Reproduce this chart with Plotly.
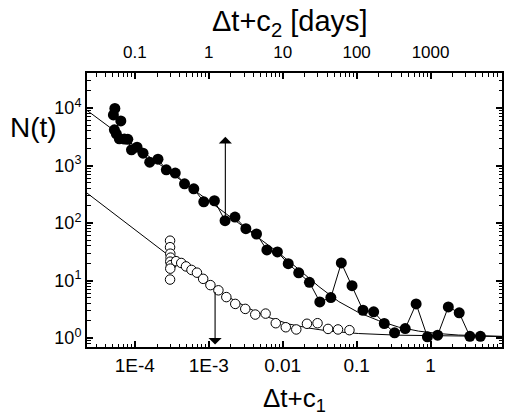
import math
import plotly.graph_objects as go

# ---- data ----
filled_x = [5.38e-5, 5.14e-5, 6.48e-5, 5.30e-5, 5.64e-5, 6.18e-5, 7.23e-5, 8.05e-5,
            9.03e-5, 1.074e-4, 1.294e-4, 1.592e-4, 2.06e-4, 2.67e-4, 3.53e-4, 4.71e-4,
            6.28e-4, 8.57e-4, 1.194e-3, 1.664e-3, 2.265e-3, 3.18e-3, 4.43e-3, 6.12e-3,
            8.49e-3, 1.189e-2, 1.648e-2, 2.30e-2, 3.18e-2, 4.48e-2, 6.21e-2, 8.67e-2,
            0.122, 0.170, 0.2366, 0.326, 0.454, 0.638, 0.906, 1.247, 1.738, 2.44, 3.40, 4.72]
filled_y = [9840, 7590, 5970, 4170, 3550, 2910, 2880, 2850,
            1874, 2086, 1641, 1145, 1291, 842, 738, 481,
            394, 234, 244, 110, 127, 79.6, 64.4, 34.0,
            31.4, 19.6, 13.6, 9.3, 4.25, 5.05, 20.2, 8.15,
            3.04, 2.85, 1.79, 1.23, 1.46, 3.92, 1.05, 1.12, 3.48, 2.74, 1.07, 1.07]

open_x = [3.00e-4, 3.00e-4, 3.02e-4, 3.05e-4, 3.02e-4, 3.08e-4, 3.02e-4, 3.00e-4,
          3.62e-4, 4.25e-4, 4.93e-4, 5.85e-4, 6.93e-4, 8.41e-4, 1.054e-3, 1.352e-3,
          1.730e-3, 2.285e-3, 3.12e-3, 4.26e-3, 5.88e-3, 8.07e-3, 1.102e-2, 1.528e-2,
          2.13e-2, 2.96e-2, 4.11e-2, 5.60e-2, 8.00e-2]
open_y = [49.3, 38.0, 29.3, 25.0, 21.3, 18.5, 16.1, 10.4,
          21.7, 20.2, 17.6, 15.3, 13.7, 10.7, 8.32, 6.76,
          5.15, 3.92, 3.21, 2.56, 2.66, 1.81, 1.54, 1.41,
          1.77, 1.81, 1.44, 1.41, 1.37]

fit1_x = [2.26e-5, 4.61e-5, 1.592e-4, 7.50e-4, 3.53e-3, 8.96e-3, 1.664e-2, 3.09e-2,
          5.74e-2, 0.1067, 0.198, 0.369, 0.686, 1.274, 2.366, 4.40, 9.25]
fit1_y = [9090, 4605, 1416, 323, 73.5, 29.9, 15.5, 7.84,
          4.30, 2.77, 2.01, 1.55, 1.32, 1.197, 1.127, 1.092, 1.07]

fit2_x = [2.26e-5, 8.56e-5, 2.96e-4, 5.50e-4, 1.021e-3, 1.90e-3, 3.53e-3, 6.56e-3,
          1.219e-2, 2.26e-2, 4.21e-2, 0.1067, 0.369, 1.738, 9.25]
fit2_y = [332, 89.8, 26.5, 15.2, 8.66, 5.05, 3.25, 2.27,
          1.75, 1.49, 1.32, 1.197, 1.12, 1.083, 1.062]

arrow1 = dict(x=1.678e-3, y_from=110, y_to=3150)
arrow2 = dict(x=1.219e-3, y_from=6.68, y_to=0.77)

bottom_tickvals = [1e-4, 1e-3, 1e-2, 1e-1, 1]
bottom_ticktext = ["1E-4", "1E-3", "0.01", "0.1", "1"]
top_tickvals = [0.1, 1, 10, 100, 1000]
top_ticktext = ["0.1", "1", "10", "100", "1000"]
y_tickvals = [1, 10, 100, 1000, 10000]
y_ticktext = ["10<sup>0</sup>", "10<sup>1</sup>", "10<sup>2</sup>", "10<sup>3</sup>", "10<sup>4</sup>"]

FONT = "Arial, Liberation Sans, sans-serif"

def minor_vals(lo, hi):
    out = []
    for e in range(lo, hi + 1):
        for d in range(2, 10):
            out.append(d * 10.0 ** e)
    return out

xr = [-4.646, 0.966]
x2r = [xr[0] + 3, xr[1] + 3]
yr = [-0.156, 4.609]

fig = go.Figure()
fig.add_trace(go.Scatter(x=fit1_x, y=fit1_y, mode="lines",
                         line=dict(color="black", width=1), showlegend=False, hoverinfo="skip"))
fig.add_trace(go.Scatter(x=fit2_x, y=fit2_y, mode="lines",
                         line=dict(color="black", width=1), showlegend=False, hoverinfo="skip"))
fig.add_trace(go.Scatter(x=open_x, y=open_y, mode="markers",
                         marker=dict(symbol="circle", size=9.5, color="white",
                                     line=dict(color="black", width=1)),
                         showlegend=False))
fig.add_trace(go.Scatter(x=filled_x, y=filled_y, mode="lines+markers",
                         line=dict(color="black", width=1),
                         marker=dict(symbol="circle", size=11, color="black"),
                         showlegend=False))
fig.add_trace(go.Scatter(x=[], y=[], xaxis="x2", showlegend=False))

for a in (arrow1, arrow2):
    fig.add_annotation(x=math.log10(a["x"]), y=math.log10(a["y_to"]),
                       ax=math.log10(a["x"]), ay=math.log10(a["y_from"]),
                       xref="x", yref="y", axref="x", ayref="y",
                       showarrow=True, arrowhead=1, arrowsize=2.0, arrowwidth=1.1,
                       arrowcolor="black", text="")

fig.add_annotation(text="Δt+c<sub>2</sub> [days]", xref="paper", yref="paper",
                   x=0.489, y=1.182, xanchor="center", yanchor="middle", showarrow=False,
                   font=dict(family=FONT, size=29, color="black"))
fig.add_annotation(text="Δt+c<sub>1</sub>", xref="paper", yref="paper",
                   x=0.501, y=-0.19, xanchor="center", yanchor="middle", showarrow=False,
                   font=dict(family=FONT, size=26, color="black"))
fig.add_annotation(text="N(t)", xref="paper", yref="paper",
                   x=-0.128, y=0.800, xanchor="center", yanchor="middle", showarrow=False,
                   font=dict(family=FONT, size=28, color="black"))

common = dict(showline=True, linecolor="black", linewidth=2, showgrid=False, zeroline=False,
              ticks="inside", ticklen=6, tickwidth=1.5, tickcolor="black", type="log")

fig.update_layout(
    width=505, height=416,
    margin=dict(l=87, r=1, t=73, b=69),
    paper_bgcolor="white", plot_bgcolor="white",
    xaxis=dict(range=xr, tickmode="array", tickvals=bottom_tickvals, ticktext=bottom_ticktext,
               tickfont=dict(family=FONT, size=19, color="black"),
               minor=dict(ticks="inside", ticklen=3.5, tickwidth=1, tickcolor="black",
                          tickmode="array", tickvals=minor_vals(-5, 0)),
               **common),
    xaxis2=dict(range=x2r, overlaying="x", side="top", anchor="y",
                tickmode="array", tickvals=top_tickvals, ticktext=top_ticktext,
                tickfont=dict(family=FONT, size=17, color="black"),
                ticklabelstandoff=6,
                minor=dict(ticks="inside", ticklen=3.5, tickwidth=1, tickcolor="black",
                           tickmode="array", tickvals=minor_vals(-2, 3)),
                **common),
    yaxis=dict(range=yr, tickmode="array", tickvals=y_tickvals, ticktext=y_ticktext,
               tickfont=dict(family=FONT, size=18, color="black"), mirror="ticks",
               minor=dict(ticks="inside", ticklen=3.5, tickwidth=1, tickcolor="black",
                          tickmode="array", tickvals=minor_vals(-1, 4)),
               **common),
)

fig.write_html("out.html")
